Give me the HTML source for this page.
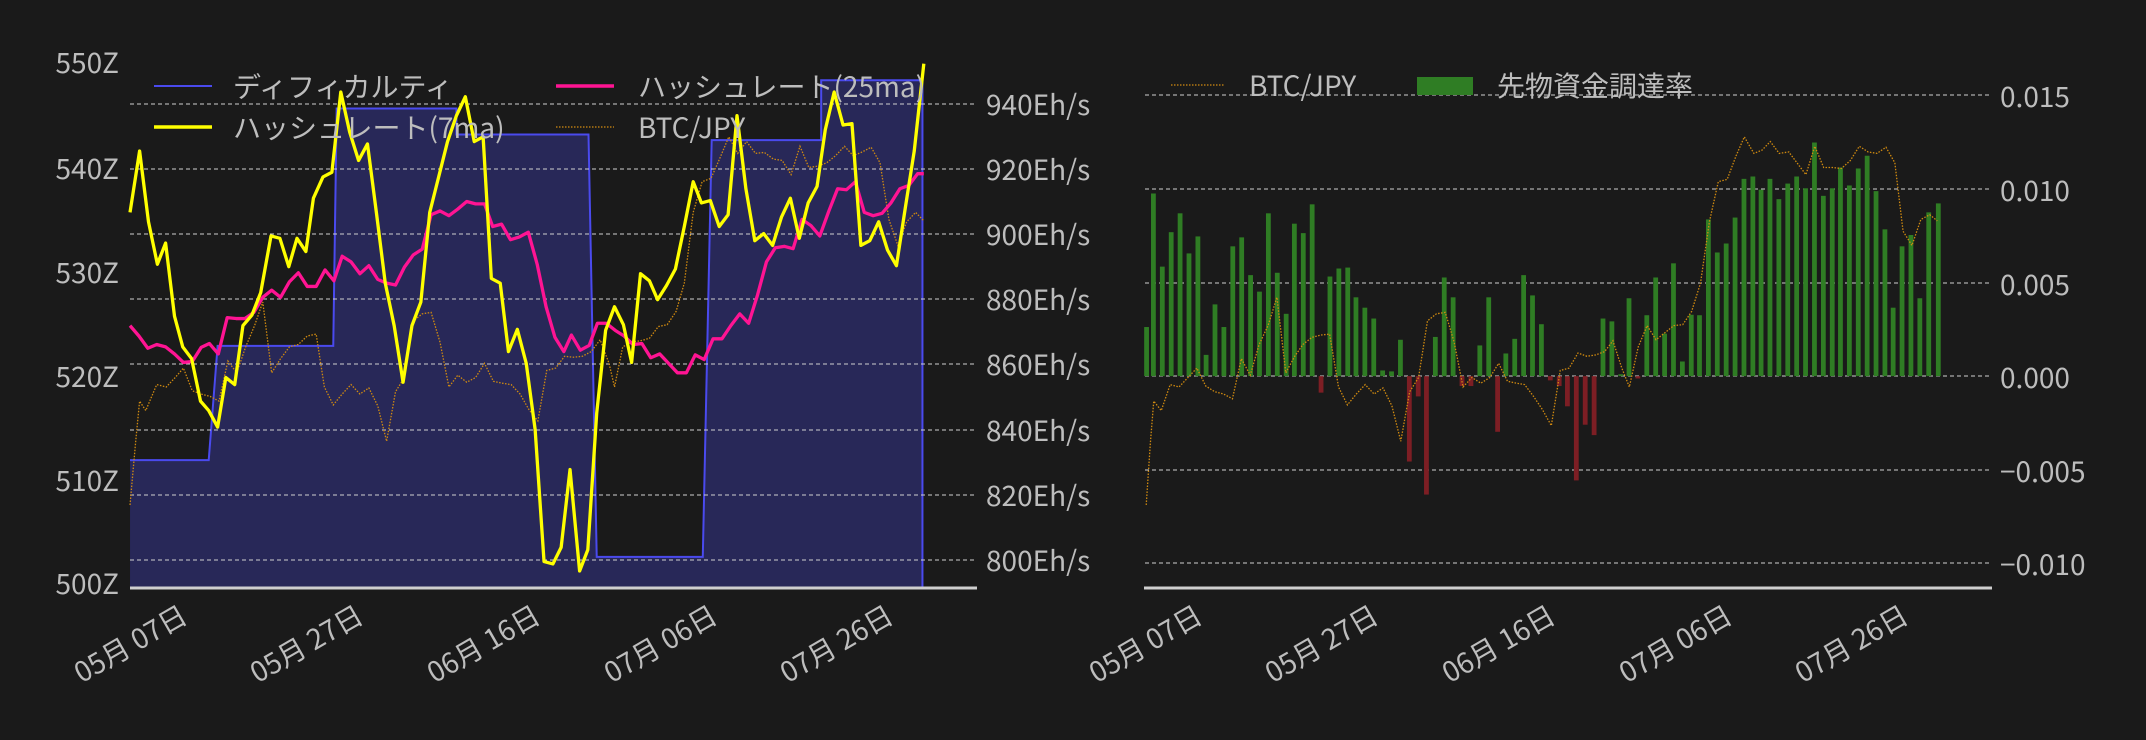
<!DOCTYPE html>
<html><head><meta charset="utf-8"><style>
html,body{margin:0;padding:0;background:#1a1a1a;}
svg{display:block;font-family:"Noto Sans CJK JP","Liberation Sans",sans-serif;}
text{fill:#bdbdbd;font-size:28px;}
</style></head><body>
<svg width="2146" height="740" viewBox="0 0 2146 740" xmlns="http://www.w3.org/2000/svg">
<rect width="2146" height="740" fill="#1a1a1a"/>
<g transform="scale(0.68431,0.47191)">
<path d="M190,1246 L190,975 L305,975 L318,733 L487,733 L492,230 L667,230 L667,285 L860,285 L872,1180 L1027,1180 L1040,297 L1200,297 L1200,170 L1348,170 L1348,1246 Z" fill="#282858"/>
<path d="M190,975 L305,975 L318,733 L487,733 L492,230 L667,230 L667,285 L860,285 L872,1180 L1027,1180 L1040,297 L1200,297 L1200,170 L1348,170 L1348,1246" fill="none" stroke="#4a4aee" stroke-width="2" vector-effect="non-scaling-stroke"/>
</g>
<g stroke="#d0d0d0" stroke-width="1" stroke-dasharray="4,3">
<line x1="130" x2="977" y1="104" y2="104"/><line x1="130" x2="977" y1="169" y2="169"/>
<line x1="130" x2="977" y1="234" y2="234"/><line x1="130" x2="977" y1="299" y2="299"/>
<line x1="130" x2="977" y1="364" y2="364"/><line x1="130" x2="977" y1="430" y2="430"/>
<line x1="130" x2="977" y1="495" y2="495"/><line x1="130" x2="977" y1="560" y2="560"/>
</g>
<g transform="scale(0.68431,0.47191)" fill="none">
<polyline vector-effect="non-scaling-stroke" stroke="#d08a10" stroke-width="1.3" stroke-dasharray="1.5,1.5" points="190,1070 198,940 204,850 213,870 229,815 243,820 256,800 268,780 281,828 294,835 307,840 320,850 333,765 346,790 359,735 372,690 384,640 397,790 410,760 423,735 436,730 449,712 462,708 474,820 487,858 500,835 513,815 526,835 539,822 552,860 565,935 578,830 591,800 604,680 617,665 630,662 643,725 656,820 669,795 682,810 695,800 708,770 721,808 734,812 747,815 760,835 773,868 786,892 799,785 812,780 825,755 838,757 851,755 864,745 877,720 890,770 898,820 910,735 923,725 936,722 949,717 962,692 975,688 988,660 1000,600 1013,450 1026,385 1039,378 1052,335 1065,290 1078,325 1091,300 1104,325 1117,323 1130,337 1143,340 1156,370 1169,310 1182,355 1195,352 1208,345 1221,330 1234,310 1247,330 1260,322 1273,312 1286,345 1299,465 1312,520 1325,470 1338,450 1350,468"/>
<polyline vector-effect="non-scaling-stroke" stroke="#ff1493" stroke-width="3.3" stroke-linejoin="round" points="190,690 203,712 216,738 229,730 242,735 255,750 268,768 281,766 294,736 306,728 319,750 332,673 345,675 358,675 371,662 384,630 397,615 410,630 423,597 436,578 449,607 462,607 475,572 488,595 500,543 513,555 526,580 539,563 552,592 565,600 578,604 591,566 604,540 617,528 630,455 643,447 656,457 669,443 682,427 695,432 708,432 720,480 733,475 746,508 759,502 772,492 785,560 798,650 811,715 824,745 835,710 848,742 861,732 873,685 886,685 899,700 912,712 925,730 938,728 951,758 964,750 977,770 990,790 1003,790 1016,752 1029,762 1042,718 1055,718 1068,690 1081,665 1094,685 1107,625 1120,555 1133,525 1146,522 1159,527 1172,465 1185,478 1198,500 1211,448 1224,400 1237,402 1250,385 1263,450 1276,457 1289,452 1302,430 1315,400 1328,393 1341,368 1350,368"/>
<polyline vector-effect="non-scaling-stroke" stroke="#ffff00" stroke-width="3.3" stroke-linejoin="round" points="190,450 204,320 217,470 230,560 242,515 255,670 267,735 280,760 293,850 305,870 318,905 330,800 343,815 355,690 368,668 381,620 396,500 409,505 422,565 434,505 447,533 458,420 472,375 485,365 498,195 511,280 524,340 537,305 550,450 563,600 576,690 589,810 602,690 615,640 628,450 641,375 654,300 667,245 680,205 693,300 706,290 718,590 731,600 743,745 756,698 769,770 782,910 795,1190 808,1195 820,1160 833,995 847,1210 859,1165 872,875 885,700 898,650 911,688 923,768 936,580 949,595 961,635 974,605 987,570 1000,480 1013,385 1025,430 1038,425 1051,480 1064,455 1077,245 1090,400 1103,510 1116,495 1129,520 1142,460 1155,420 1168,505 1181,430 1194,395 1206,275 1219,195 1232,265 1245,262 1258,520 1271,510 1284,470 1297,530 1310,563 1323,440 1336,320 1350,135"/>
</g>
<line x1="130" x2="977" y1="588" y2="588" stroke="#cfcfcf" stroke-width="3"/>
<g text-anchor="end" dominant-baseline="central">
<text x="119" y="62">550Z</text><text x="119" y="168">540Z</text><text x="119" y="272">530Z</text>
<text x="119" y="376">520Z</text><text x="119" y="480">510Z</text><text x="119" y="583">500Z</text>
</g>
<g dominant-baseline="central">
<text x="986" y="104">940Eh/s</text><text x="986" y="169">920Eh/s</text><text x="986" y="234">900Eh/s</text>
<text x="986" y="299">880Eh/s</text><text x="986" y="364">860Eh/s</text><text x="986" y="430">840Eh/s</text>
<text x="986" y="495">820Eh/s</text><text x="986" y="560">800Eh/s</text>
</g>
<g text-anchor="middle" dominant-baseline="central">
<text transform="translate(130,643) rotate(-30)">05月 07日</text>
<text transform="translate(306,643) rotate(-30)">05月 27日</text>
<text transform="translate(483,643) rotate(-30)">06月 16日</text>
<text transform="translate(660,643) rotate(-30)">07月 06日</text>
<text transform="translate(836,643) rotate(-30)">07月 26日</text>
</g>
<line x1="154" x2="212" y1="86" y2="86" stroke="#4a4aee" stroke-width="2"/>
<text x="233" y="86" dominant-baseline="central">ディフィカルティ</text>
<line x1="154" x2="212" y1="127" y2="127" stroke="#ffff00" stroke-width="3.5"/>
<text x="233" y="127" dominant-baseline="central">ハッシュレート(7ma)</text>
<line x1="556" x2="614" y1="86" y2="86" stroke="#ff1493" stroke-width="3.5"/>
<text x="638" y="86" dominant-baseline="central">ハッシュレート(25ma)</text>
<line x1="556" x2="614" y1="127" y2="127" stroke="#d08a10" stroke-width="1.3" stroke-dasharray="1.5,1.5"/>
<text x="638" y="127" dominant-baseline="central">BTC/JPY</text>

<g stroke="#d0d0d0" stroke-width="1" stroke-dasharray="4,3">
<line x1="1145" x2="1990" y1="95" y2="95"/><line x1="1145" x2="1990" y1="189" y2="189"/>
<line x1="1145" x2="1990" y1="283" y2="283"/><line x1="1145" x2="1990" y1="376" y2="376"/>
<line x1="1145" x2="1990" y1="470" y2="470"/><line x1="1145" x2="1990" y1="563" y2="563"/>
</g>
<g transform="translate(1073,0) scale(0.68431,0.47191)">
<g fill="#2f7d24">
<rect x="104" y="693" width="7" height="104"/><rect x="114" y="410" width="7" height="387"/><rect x="127" y="565" width="7" height="232"/><rect x="140" y="492" width="7" height="305"/><rect x="153" y="452" width="7" height="345"/><rect x="166" y="537" width="7" height="260"/><rect x="179" y="501" width="7" height="296"/><rect x="191" y="752" width="7" height="45"/><rect x="204" y="645" width="7" height="152"/><rect x="217" y="693" width="7" height="104"/><rect x="230" y="522" width="7" height="275"/><rect x="243" y="503" width="7" height="294"/><rect x="256" y="583" width="7" height="214"/><rect x="269" y="618" width="7" height="179"/><rect x="282" y="452" width="7" height="345"/><rect x="295" y="578" width="7" height="219"/><rect x="308" y="665" width="7" height="132"/><rect x="320" y="474" width="7" height="323"/><rect x="333" y="494" width="7" height="303"/><rect x="346" y="433" width="7" height="364"/><rect x="372" y="586" width="7" height="211"/><rect x="385" y="569" width="7" height="228"/><rect x="398" y="567" width="7" height="230"/><rect x="410" y="630" width="7" height="167"/><rect x="423" y="652" width="7" height="145"/><rect x="436" y="675" width="7" height="122"/><rect x="449" y="785" width="7" height="12"/><rect x="462" y="787" width="7" height="10"/><rect x="475" y="720" width="7" height="77"/><rect x="526" y="714" width="7" height="83"/><rect x="539" y="588" width="7" height="209"/><rect x="552" y="630" width="7" height="167"/><rect x="591" y="732" width="7" height="65"/><rect x="604" y="630" width="7" height="167"/><rect x="629" y="749" width="7" height="48"/><rect x="642" y="718" width="7" height="79"/><rect x="655" y="583" width="7" height="214"/><rect x="668" y="626" width="7" height="171"/><rect x="681" y="687" width="7" height="110"/><rect x="771" y="675" width="7" height="122"/><rect x="784" y="681" width="7" height="116"/><rect x="797" y="793" width="7" height="4"/><rect x="809" y="632" width="7" height="165"/><rect x="835" y="668" width="7" height="129"/><rect x="848" y="588" width="7" height="209"/><rect x="861" y="707" width="7" height="90"/><rect x="874" y="558" width="7" height="239"/><rect x="887" y="766" width="7" height="31"/><rect x="900" y="667" width="7" height="130"/><rect x="912" y="668" width="7" height="129"/><rect x="925" y="465" width="7" height="332"/><rect x="938" y="535" width="7" height="262"/><rect x="951" y="516" width="7" height="281"/><rect x="964" y="461" width="7" height="336"/><rect x="977" y="379" width="7" height="418"/><rect x="990" y="374" width="7" height="423"/><rect x="1002" y="402" width="7" height="395"/><rect x="1015" y="379" width="7" height="418"/><rect x="1028" y="422" width="7" height="375"/><rect x="1041" y="389" width="7" height="408"/><rect x="1054" y="374" width="7" height="423"/><rect x="1067" y="399" width="7" height="398"/><rect x="1080" y="302" width="7" height="495"/><rect x="1093" y="415" width="7" height="382"/><rect x="1106" y="399" width="7" height="398"/><rect x="1118" y="355" width="7" height="442"/><rect x="1131" y="393" width="7" height="404"/><rect x="1144" y="357" width="7" height="440"/><rect x="1157" y="330" width="7" height="467"/><rect x="1170" y="405" width="7" height="392"/><rect x="1183" y="486" width="7" height="311"/><rect x="1195" y="652" width="7" height="145"/><rect x="1208" y="522" width="7" height="275"/><rect x="1221" y="498" width="7" height="299"/><rect x="1234" y="632" width="7" height="165"/><rect x="1247" y="450" width="7" height="347"/><rect x="1261" y="431" width="7" height="366"/>
</g>
<g fill="#7d1e24">
<rect x="359" y="797" width="7" height="35"/><rect x="488" y="797" width="7" height="181"/><rect x="501" y="797" width="7" height="43"/><rect x="513" y="797" width="7" height="251"/><rect x="565" y="797" width="7" height="21"/><rect x="578" y="797" width="7" height="21"/><rect x="617" y="797" width="7" height="118"/><rect x="694" y="797" width="7" height="9"/><rect x="707" y="797" width="7" height="21"/><rect x="719" y="797" width="7" height="64"/><rect x="732" y="797" width="7" height="221"/><rect x="745" y="797" width="7" height="103"/><rect x="758" y="797" width="7" height="125"/><rect x="822" y="797" width="7" height="5"/>
</g>
<polyline fill="none" vector-effect="non-scaling-stroke" stroke="#d08a10" stroke-width="1.3" stroke-dasharray="1.5,1.5" points="107,1070 113,940 118,850 129,870 142,815 155,820 168,800 181,780 194,818 207,830 220,835 233,845 246,760 259,795 272,730 285,690 298,630 311,790 324,755 336,730 349,715 362,710 375,708 388,820 401,858 414,835 427,815 440,835 453,822 466,860 479,935 492,830 505,800 518,680 531,665 544,662 557,725 570,820 583,800 596,812 609,800 622,770 635,808 648,812 660,815 673,840 686,868 699,902 712,785 725,780 738,748 751,755 764,752 777,745 789,722 802,780 813,820 826,735 839,690 852,720 865,705 878,690 891,688 904,660 917,600 930,470 943,385 956,380 969,330 981,290 995,325 1007,318 1019,300 1032,325 1046,322 1058,345 1071,370 1084,310 1097,355 1110,355 1123,357 1136,340 1149,310 1162,322 1175,325 1188,312 1201,345 1213,490 1226,520 1239,465 1252,455 1263,468"/>
</g>
<line x1="1144" x2="1992" y1="588" y2="588" stroke="#cfcfcf" stroke-width="3"/>
<g dominant-baseline="central">
<text x="2000" y="96">0.015</text><text x="2000" y="190">0.010</text><text x="2000" y="284">0.005</text>
<text x="2000" y="377">0.000</text><text x="2000" y="471">−0.005</text><text x="2000" y="564">−0.010</text>
</g>
<g text-anchor="middle" dominant-baseline="central">
<text transform="translate(1145,643) rotate(-30)">05月 07日</text>
<text transform="translate(1321,643) rotate(-30)">05月 27日</text>
<text transform="translate(1498,643) rotate(-30)">06月 16日</text>
<text transform="translate(1675,643) rotate(-30)">07月 06日</text>
<text transform="translate(1851,643) rotate(-30)">07月 26日</text>
</g>
<line x1="1171" x2="1224" y1="85" y2="85" stroke="#d08a10" stroke-width="1.3" stroke-dasharray="1.5,1.5"/>
<text x="1249" y="85" dominant-baseline="central">BTC/JPY</text>
<rect x="1417" y="77" width="56" height="18" fill="#2f7d24"/>
<text x="1497" y="85" dominant-baseline="central">先物資金調達率</text>
</svg>
</body></html>
